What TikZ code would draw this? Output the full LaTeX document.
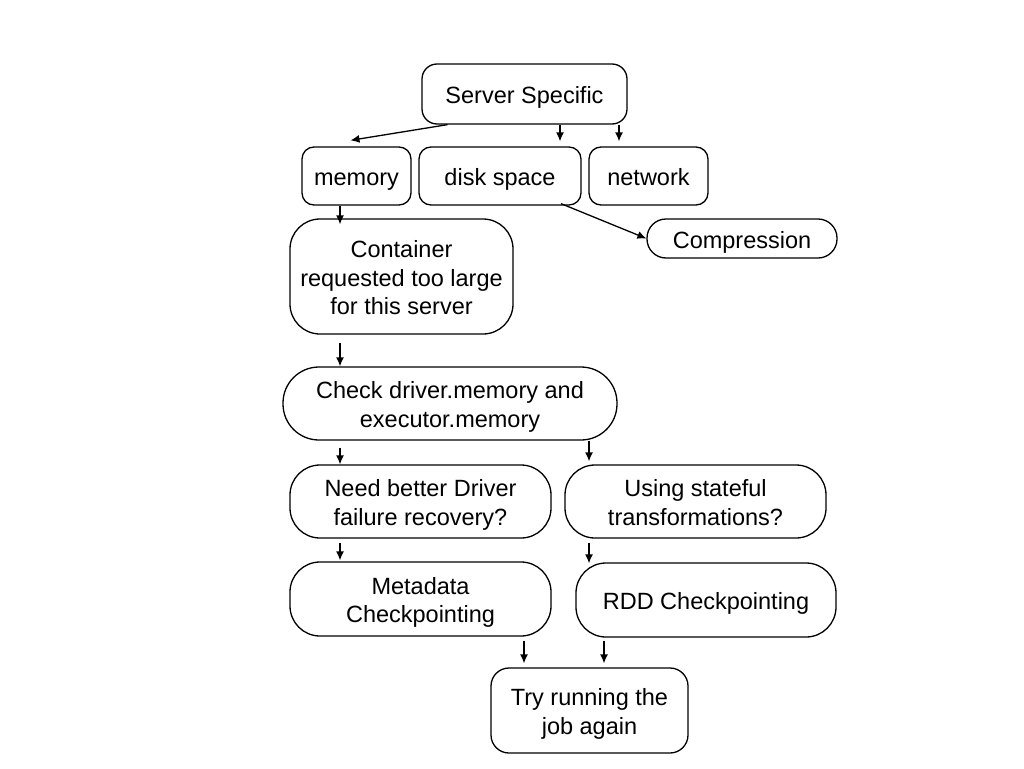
\documentclass[tikz,border=0pt]{standalone}
\usepackage{fontspec}
\setmainfont{Liberation Sans}
\usetikzlibrary{arrows.meta}
\newcommand{\topstrut}{\rule{0pt}{24.5pt}}
\newcommand{\tallstrut}{\rule{0pt}{24pt}}
\newcommand{\botstrut}{\rule[-5pt]{0pt}{5pt}}

\begin{document}
\begin{tikzpicture}[x=1pt, y=-1pt, >={Latex[length=9pt,width=8pt]}]
\tikzstyle{block} = [draw, line width=1.3pt, rectangle, align=center, inner sep=0pt, font=\fontsize{23.5}{28.6}\selectfont, execute at begin node=\topstrut, execute at end node=\botstrut]
\tikzstyle{arr} = [->, line width=1.3pt]
\useasboundingbox (0,0) rectangle (1024,768);

    % top level and the three resources
    \node [block, rounded corners=15pt, minimum width=205pt, minimum height=60pt] (ss) at (524.5,94) {Server Specific};
    \node [block, rounded corners=12pt, minimum width=109pt, minimum height=58pt] (mem) at (356.5,176) {memory};
    \node [block, rounded corners=12pt, minimum width=162pt, minimum height=58pt] (disk) at (500,176) {disk space};
    \node [block, rounded corners=12pt, minimum width=119pt, minimum height=58pt] (net) at (648.5,176) {network};
    \node [block, rounded corners=19pt, minimum width=190pt, minimum height=39pt] (comp) at (742,238.5) {Compression};
    \node [block, rounded corners=30pt, minimum width=223pt, minimum height=115pt] (con) at (401.5,276.5) {\tallstrut Container\\requested too large\\for this server};
    \node [block, rounded corners=36pt, minimum width=334pt, minimum height=73pt] (chk) at (450,403.5) {\tallstrut Check driver.memory and\\executor.memory};

    % the two questions and what to do
    \node [block, rounded corners=30pt, minimum width=261pt, minimum height=73pt] (need) at (420.5,501.5) {\tallstrut Need better Driver\\failure recovery?};
    \node [block, rounded corners=30pt, minimum width=261pt, minimum height=73pt] (using) at (695.5,501.5) {\tallstrut Using stateful\\transformations?};
    \node [block, rounded corners=30pt, minimum width=261pt, minimum height=74pt] (meta) at (420.5,599) {\tallstrut Metadata\\Checkpointing};
    \node [block, rounded corners=30pt, minimum width=260pt, minimum height=74pt] (rdd) at (706,600) {RDD Checkpointing};
    \node [block, rounded corners=18pt, minimum width=197pt, minimum height=85pt] (try) at (589.5,710.5) {\tallstrut Try running the\\job again};

    % connectors
    \draw [arr] ([xshift=-77pt]ss.south) -- ([xshift=-6pt,yshift=6pt]mem.north);
    \draw [arr] ([xshift=35.5pt]ss.south) -- ([xshift=60pt,yshift=5pt]disk.north);
    \draw [arr] ([xshift=94.5pt]ss.south) -- ([xshift=-29.5pt,yshift=5pt]net.north);
    \draw [arr] ([xshift=-16.5pt]mem.south) -- ([xshift=-61.5pt,yshift=-6pt]con.north);
    \draw [arr] ([xshift=61pt,yshift=2pt]disk.south) -- (comp.west);
    \draw [arr] ([xshift=-61.5pt,yshift=-8pt]con.south) -- ([xshift=-110pt]chk.north);
    \draw [arr] ([xshift=-110pt,yshift=-7pt]chk.south) -- ([xshift=-80.5pt]need.north);
    \draw [arr] ([xshift=139pt]chk.south) -- ([xshift=-106.5pt,yshift=3pt]using.north);
    \draw [arr] ([xshift=-80.5pt,yshift=-4pt]need.south) -- ([xshift=-80.5pt,yshift=1pt]meta.north);
    \draw [arr] ([xshift=-106.5pt,yshift=-4pt]using.south) -- ([xshift=-117pt,yshift=-1pt]rdd.north);
    \draw [arr] ([xshift=103.5pt,yshift=-4pt]meta.south) -- ([xshift=-65.5pt,yshift=4pt]try.north);
    \draw [arr] ([xshift=-102pt,yshift=-3pt]rdd.south) -- ([xshift=14.5pt,yshift=4pt]try.north);

\end{tikzpicture}
\end{document}
